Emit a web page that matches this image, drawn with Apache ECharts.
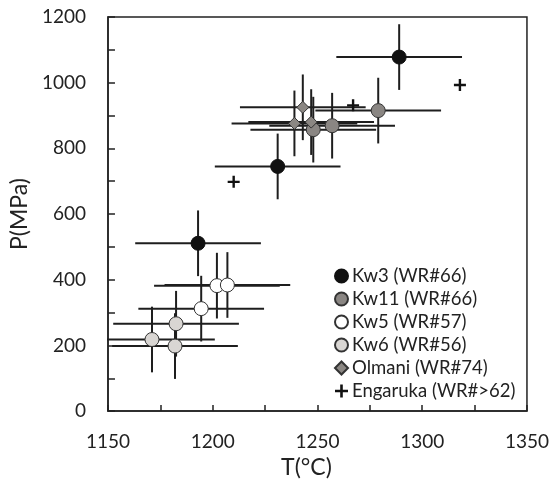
<!DOCTYPE html>
<html>
<head>
<meta charset="utf-8">
<script src="https://cdn.jsdelivr.net/npm/echarts@6/dist/echarts.min.js"></script>
<style>html,body{margin:0;padding:0;background:#fff}#c{width:552px;height:484px}</style>
</head>
<body>
<div id="c"></div>
<script>
// ---- data ----
var seriesNames = ['Kw3 (WR#66)', 'Kw11 (WR#66)', 'Kw5 (WR#57)', 'Kw6 (WR#56)', 'Olmani (WR#74)', 'Engaruka (WR#>62)'];
var kw3T = [1193, 1231, 1289];
var kw3P = [511, 745, 1078];
var kw11T = [1248, 1257, 1279];
var kw11P = [857, 869, 915];
var kw5T = [1194.5, 1202, 1207];
var kw5P = [312, 382, 384];
var kw6T = [1171, 1182, 1182.5];
var kw6P = [218, 198, 266];
var olmaniT = [1239, 1243, 1247];
var olmaniP = [876, 925, 880];
var engT = [1210, 1267, 1318];
var engP = [698, 931, 993];
var tErr = 30;   // ± °C
var pErr = 100;  // ± MPa
var xTicks = [1150, 1200, 1250, 1300, 1350];
var yTicks = [0, 200, 400, 600, 800, 1000, 1200];

function pts(T, P) { return T.map(function (t, i) { return [t, P[i]]; }); }

var errPoints = [].concat(pts(olmaniT, olmaniP), pts(kw11T, kw11P), pts(kw3T, kw3P), pts(kw5T, kw5P), pts(kw6T, kw6P));

var FONT = 'Lato';
var chart = echarts.init(document.getElementById('c'), null, {renderer: 'canvas'});

function errRender(params, api) {
  var t = api.value(0), p = api.value(1);
  var h1 = api.coord([t - tErr, p]), h2 = api.coord([t + tErr, p]);
  var v1 = api.coord([t, p - pErr]), v2 = api.coord([t, p + pErr]);
  var st = {stroke: '#1e1e1e', lineWidth: 2};
  return {
    type: 'group',
    children: [
      {type: 'line', shape: {x1: h1[0], y1: h1[1], x2: h2[0], y2: h2[1]}, style: st},
      {type: 'line', shape: {x1: v1[0], y1: v1[1], x2: v2[0], y2: v2[1]}, style: st}
    ]
  };
}

var plus = 'path://M4,0H6V4H10V6H6V10H4V6H0V4H4Z';

var option = {
  animation: false,
  backgroundColor: '#fff',
  grid: {left: 106, right: 24, top: 17, bottom: 71, show: true, borderColor: '#222', borderWidth: 1.5, backgroundColor: 'transparent'},
  xAxis: {
    type: 'value', min: 1150, max: 1350, interval: 25,
    name: 'T(°C)', nameLocation: 'middle', nameGap: 43,
    nameTextStyle: {fontFamily: FONT, fontSize: 23, color: '#222', padding: [0, 22, 0, 0]},
    axisLine: {show: true, lineStyle: {color: '#222', width: 1.5}},
    axisTick: {show: true, inside: true, length: 6, lineStyle: {color: '#222', width: 1.5}},
    splitLine: {show: false},
    axisLabel: {
      fontFamily: FONT, fontSize: 19, color: '#222', margin: 21, showMinLabel: true, showMaxLabel: true,
      formatter: function (v) { return xTicks.indexOf(v) >= 0 ? String(v) : ''; }
    }
  },
  yAxis: {
    type: 'value', min: 0, max: 1200, interval: 100,
    name: 'P(MPa)', nameLocation: 'middle', nameGap: 61, nameRotate: 90,
    nameTextStyle: {fontFamily: FONT, fontSize: 23, color: '#222'},
    axisLine: {show: true, lineStyle: {color: '#222', width: 1.5}},
    axisTick: {show: true, inside: true, length: 7, lineStyle: {color: '#222', width: 1.5}},
    splitLine: {show: false},
    axisLabel: {
      fontFamily: FONT, fontSize: 19, color: '#222', margin: 22,
      formatter: function (v) { return yTicks.indexOf(v) >= 0 ? String(v) : ''; }
    }
  },
  legend: {
    orient: 'vertical', left: 329, top: 261, itemGap: 3, itemWidth: 13, itemHeight: 13,
    textStyle: {fontFamily: FONT, fontSize: 18.5, color: '#222', lineHeight: 20, padding: [0, 0, 0, -1]},
    data: seriesNames
  },
  series: [
    {type: 'custom', renderItem: errRender, data: errPoints, z: 1, clip: true, silent: true, encode: {x: 0, y: 1}},
    {name: seriesNames[0], type: 'scatter', data: pts(kw3T, kw3P), symbol: 'circle', symbolSize: 14, z: 5,
      itemStyle: {color: '#111', borderColor: '#111', borderWidth: 1, opacity: 1}},
    {name: seriesNames[1], type: 'scatter', data: pts(kw11T, kw11P), symbol: 'circle', symbolSize: 14, z: 4,
      itemStyle: {color: '#8a8683', borderColor: '#333', borderWidth: 1, opacity: 1}},
    {name: seriesNames[2], type: 'scatter', data: pts(kw5T, kw5P), symbol: 'circle', symbolSize: 14, z: 5,
      itemStyle: {color: '#fff', borderColor: '#333', borderWidth: 1, opacity: 1}},
    {name: seriesNames[3], type: 'scatter', data: pts(kw6T, kw6P), symbol: 'circle', symbolSize: 14, z: 5,
      itemStyle: {color: '#d9d6d3', borderColor: '#333', borderWidth: 1, opacity: 1}},
    {name: seriesNames[4], type: 'scatter', data: pts(olmaniT, olmaniP), symbol: 'diamond', symbolSize: 12, z: 6,
      itemStyle: {color: '#8b8783', borderColor: '#333', borderWidth: 1, opacity: 1}},
    {name: seriesNames[5], type: 'scatter', data: pts(engT, engP), symbol: plus, symbolSize: 12, z: 6,
      itemStyle: {color: '#111', opacity: 1}}
  ]
};
chart.setOption(option);
</script>
</body>
</html>
